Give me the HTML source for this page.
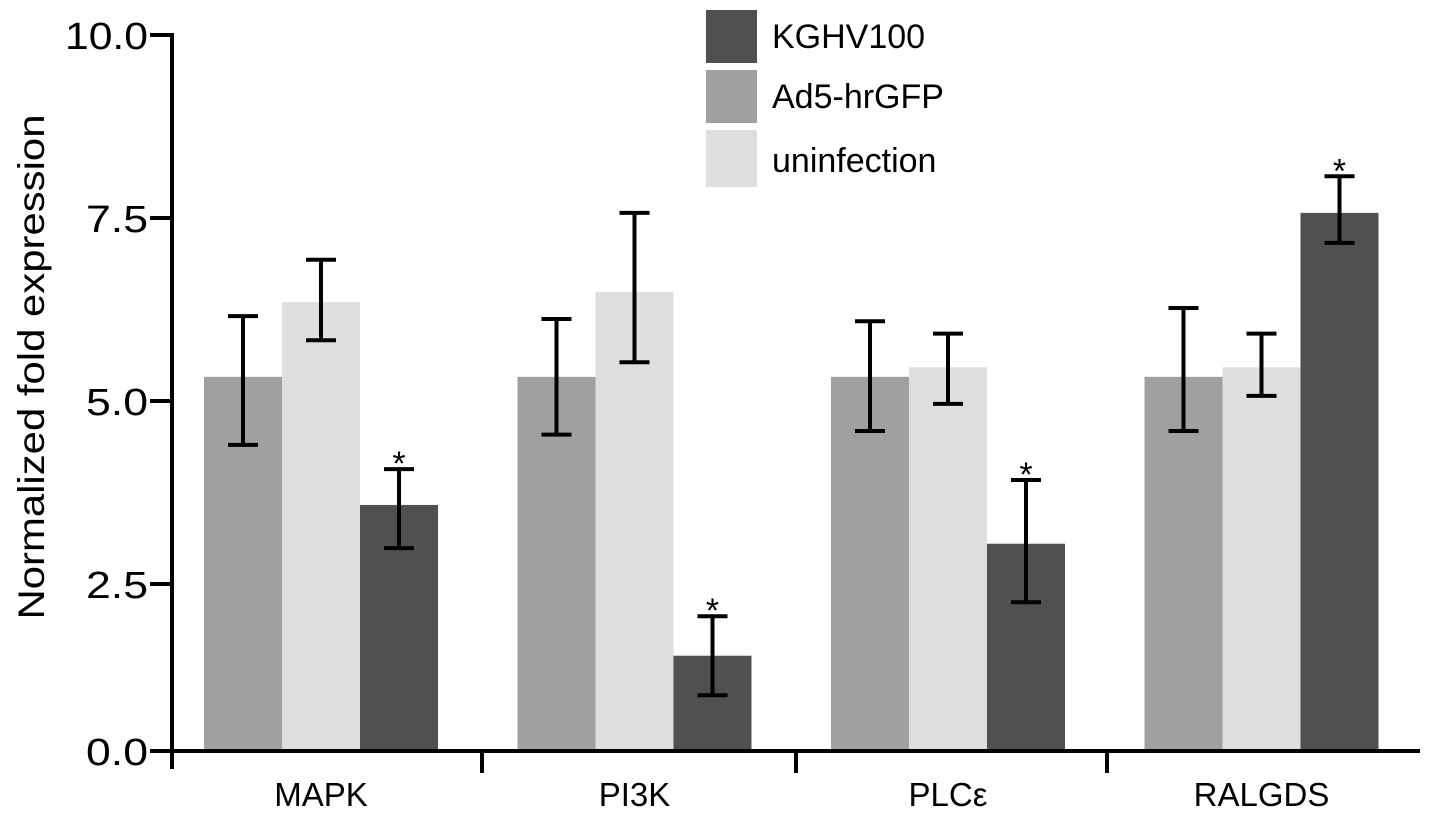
<!DOCTYPE html>
<html><head><meta charset="utf-8"><style>
body{margin:0;background:#fff;}
svg{display:block;font-family:"Liberation Sans",Arial,sans-serif;}
</style></head><body>
<svg width="1441" height="816" viewBox="0 0 1441 816">
<g id="bars"></g>
<g id="axes"></g>
<text x="44" y="367" font-size="37" text-anchor="middle" transform="rotate(-90 44 367)" textLength="505" lengthAdjust="spacingAndGlyphs">Normalized fold expression</text>
<g>
<rect x="706" y="10" width="51" height="53" fill="#505050"/>
<text x="772" y="48" font-size="34">KGHV100</text>
<rect x="706" y="70" width="51" height="53" fill="#a0a0a0"/>
<text x="772" y="108" font-size="34">Ad5-hrGFP</text>
<rect x="706" y="130" width="51" height="57" fill="#dedede"/>
<text x="772" y="172" font-size="34">uninfection</text>
</g>
</svg>
<script>
const categories=["MAPK","PI3K","PLCε","RALGDS"];
const ad5=[5.33,5.33,5.33,5.33];
const ad5Lo=[4.40,4.54,4.59,4.59];
const ad5Hi=[6.16,6.12,6.09,6.27];
const unin=[6.35,6.49,5.46,5.46];
const uninLo=[5.83,5.53,4.96,5.07];
const uninHi=[6.93,7.57,5.92,5.92];
const kghv=[3.58,1.52,3.05,7.57];
const kghvLo=[2.99,0.98,2.25,7.16];
const kghvHi=[4.07,2.06,3.92,8.07];
const yTicks=[0,2.5,5,7.5,10];
const yTickLabels=["0.0","2.5","5.0","7.5","10.0"];

const NS="http://www.w3.org/2000/svg";
const base=751;
function y(v){return v<=0?base:Math.min(base,35+(10-v)*73.2);}
function tickY(v){return v===0?base:35+(10-v)*73.2;}
function groupX(i){return 204+i*313.5;}
const bw=78;
function mk(tag,attrs,parent){const e=document.createElementNS(NS,tag);for(const k in attrs)e.setAttribute(k,attrs[k]);parent.appendChild(e);return e;}
const bars=document.getElementById('bars'),axes=document.getElementById('axes');
const series=[[ad5,ad5Lo,ad5Hi,"#a0a0a0","ad5"],[unin,uninLo,uninHi,"#dedede","uninfection"],[kghv,kghvLo,kghvHi,"#505050","kghv100"]];
categories.forEach((c,i)=>{
  series.forEach((s,j)=>{
    const x0=groupX(i)+j*bw;
    const r=mk('rect',{x:x0,y:y(s[0][i]),width:bw,height:base-y(s[0][i]),fill:s[3]},bars);
    
    
    const cx=x0+bw/2;
    const eb=mk('path',{d:`M${cx} ${y(s[1][i])}V${y(s[2][i])}M${cx-15} ${y(s[1][i])}H${cx+15}M${cx-15} ${y(s[2][i])}H${cx+15}`,stroke:'#000','stroke-width':4,fill:'none'},bars);
    
    
    if(j===2){
      const st=mk('text',{x:cx,y:y(s[2][i])+6,'font-size':34,'text-anchor':'middle'},bars);
      st.textContent='*';
      
      
    }
  });
  const lb=mk('text',{x:groupX(i)+bw*1.5,y:806,'font-size':33,'text-anchor':'middle'},axes);
  lb.textContent=c;
  
  
});
const ya=mk('path',{d:`M172 33V769`,stroke:'#000','stroke-width':4},axes);


const xa=mk('path',{d:`M150 751H1420`,stroke:'#000','stroke-width':4},axes);


yTicks.forEach((v,k)=>{
  const t=mk('path',{d:`M150 ${tickY(v)}H172`,stroke:'#000','stroke-width':4},axes);
  
  
  const l=mk('text',{x:148,y:tickY(v)+14,'font-size':38,'text-anchor':'end',textLength:v===10?83:62,lengthAdjust:'spacingAndGlyphs'},axes);
  l.textContent=yTickLabels[k];
  
  
});
[482,796,1107].forEach(xx=>{
  const t=mk('path',{d:`M${xx} 751V773`,stroke:'#000','stroke-width':4},axes);
  
  
});
</script>
</body></html>
